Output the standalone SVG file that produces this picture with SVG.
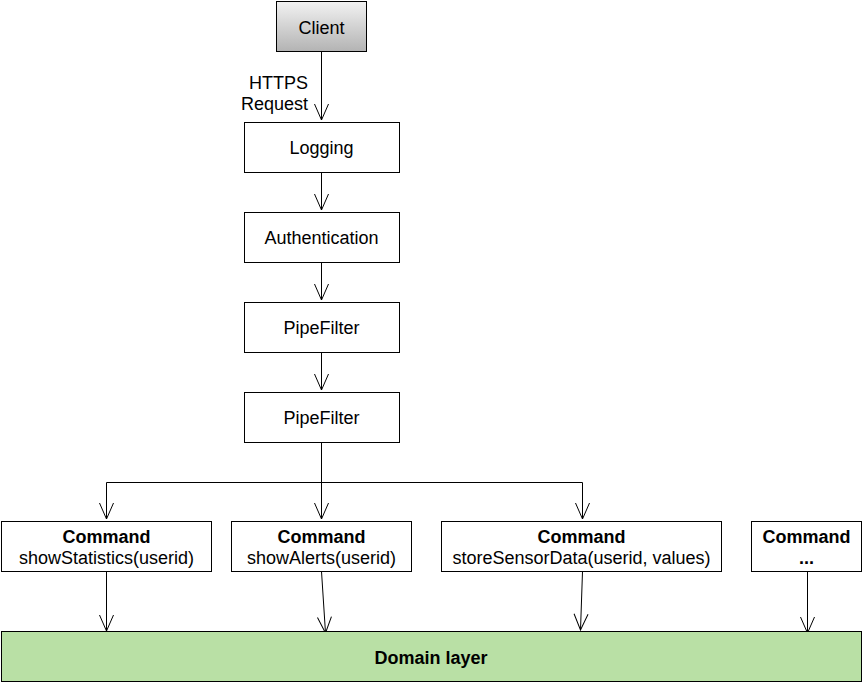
<svg xmlns="http://www.w3.org/2000/svg" width="864" height="684" viewBox="0 0 864 684">
<defs>
<linearGradient id="g" x1="0" y1="0" x2="0" y2="1">
<stop offset="0" stop-color="#f2f2f2"/>
<stop offset="1" stop-color="#b3b3b3"/>
</linearGradient>
<marker id="a" markerUnits="userSpaceOnUse" markerWidth="20" markerHeight="18" viewBox="-18 -9 20 18" refX="0" refY="0" orient="auto">
<path d="M-16,-7 L0,0 L-16,7" fill="none" stroke="#000" stroke-width="1"/>
</marker>
<style>
.n rect{stroke:#000;stroke-width:1;fill:#fff}
text{font-family:"Liberation Sans",Arial,sans-serif;font-size:18px;fill:#000;text-anchor:middle}
.b{font-weight:bold}
.c line,.c path{stroke:#000;stroke-width:1;fill:none}
</style>
</defs>
<g class="c" id="connectors">
<line x1="321.5" y1="51.5" x2="321.5" y2="120" marker-end="url(#a)"/>
<line x1="321.5" y1="172.5" x2="321.5" y2="210" marker-end="url(#a)"/>
<line x1="321.5" y1="262.5" x2="321.5" y2="300" marker-end="url(#a)"/>
<line x1="321.5" y1="352.5" x2="321.5" y2="390" marker-end="url(#a)"/>
<line x1="321.5" y1="442.5" x2="321.5" y2="519" marker-end="url(#a)"/>
<path d="M321.5,482.5 H106.5 V519" marker-end="url(#a)"/>
<path d="M321.5,482.5 H582.5 V519" marker-end="url(#a)"/>
<line x1="106.5" y1="571.5" x2="106.5" y2="631" marker-end="url(#a)"/>
<line x1="321.5" y1="571.5" x2="325.5" y2="633" marker-end="url(#a)"/>
<line x1="582.5" y1="571.5" x2="580.5" y2="630" marker-end="url(#a)"/>
<line x1="807.5" y1="571.5" x2="807.5" y2="633" marker-end="url(#a)"/>
<text x="308" y="89" style="text-anchor:end">HTTPS</text>
<text x="308" y="110" style="text-anchor:end">Request</text>
</g>
<g class="n" id="client"><rect x="276.5" y="1.5" width="90" height="50" style="fill:url(#g)"/><text x="321.5" y="34">Client</text></g>
<g class="n" id="logging"><rect x="244.5" y="122.5" width="155" height="50"/><text x="321.5" y="154">Logging</text></g>
<g class="n" id="auth"><rect x="244.5" y="212.5" width="155" height="50"/><text x="321.5" y="244">Authentication</text></g>
<g class="n" id="pipe1"><rect x="244.5" y="302.5" width="155" height="50"/><text x="321.5" y="334">PipeFilter</text></g>
<g class="n" id="pipe2"><rect x="244.5" y="392.5" width="155" height="50"/><text x="321.5" y="424">PipeFilter</text></g>
<g class="n" id="cmd1"><rect x="1.5" y="521.5" width="210" height="50"/><text x="106.5" y="543" class="b">Command</text><text x="106.5" y="564">showStatistics(userid)</text></g>
<g class="n" id="cmd2"><rect x="231.5" y="521.5" width="180" height="50"/><text x="321.5" y="543" class="b">Command</text><text x="321.5" y="564">showAlerts(userid)</text></g>
<g class="n" id="cmd3"><rect x="441.5" y="521.5" width="280" height="50"/><text x="581.5" y="543" class="b">Command</text><text x="581.5" y="564">storeSensorData(userid, values)</text></g>
<g class="n" id="cmd4"><rect x="751.5" y="521.5" width="110" height="50"/><text x="806.5" y="543" class="b">Command</text><text x="806.5" y="564" class="b">...</text></g>
<g class="n" id="domain"><rect x="1.5" y="631.5" width="860" height="50" style="fill:#b9e0a5"/><text x="431" y="664" class="b">Domain layer</text></g>
</svg>
